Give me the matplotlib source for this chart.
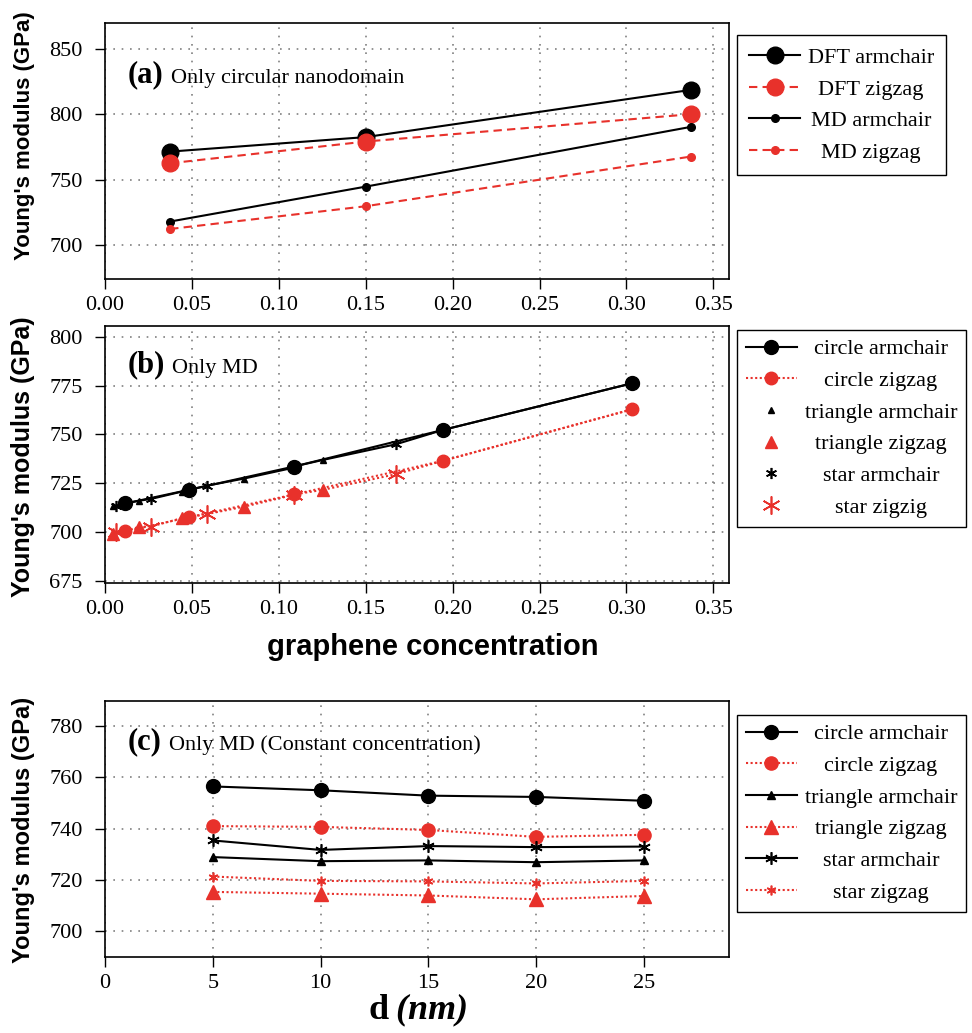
import matplotlib
matplotlib.use("Agg")
import matplotlib.pyplot as plt
import numpy as np

plt.rcParams["font.family"] = ["Liberation Serif", "DejaVu Serif"]
plt.rcParams["mathtext.fontset"] = "custom"
plt.rcParams["mathtext.rm"] = "Liberation Serif"
plt.rcParams["mathtext.bf"] = "Liberation Serif:bold"
plt.rcParams["mathtext.bfit"] = "Liberation Serif:bold:italic"
plt.rcParams["mathtext.it"] = "Liberation Serif:italic"

RED = "#e8312b"

# panel (a): only circular nanodomain
conc_a = [0.0375, 0.15, 0.337]
dft_arm = [771.4, 782.5, 818.6]
dft_zig = [762.5, 779.1, 800.0]
md_arm = [717.9, 744.6, 790.3]
md_zig = [712.2, 729.6, 767.6]

# panel (b): only MD, vs concentration
circ_x = [0.0117, 0.0484, 0.1087, 0.1943, 0.3033]
circ_arm = [714.7, 721.7, 733.6, 752.3, 776.2]
circ_zig = [700.4, 707.7, 719.3, 736.5, 762.9]
tri_x = [0.0049, 0.0195, 0.0443, 0.0797, 0.1255]
tri_arm = [713.3, 716.1, 720.8, 727.4, 737.0]
tri_zig = [698.9, 702.8, 707.2, 713.0, 721.7]
star_x = [0.0065, 0.0264, 0.0587, 0.1085, 0.1674]
star_arm = [713.6, 717.0, 723.8, 733.0, 745.0]
star_zig = [700.0, 702.9, 709.3, 719.1, 729.7]

# panel (c): only MD, constant concentration
d_nm = [5, 10, 15, 20, 25]
c_circ_arm = [756.5, 755.0, 752.9, 752.4, 750.9]
c_circ_zig = [741.0, 740.7, 739.5, 736.8, 737.6]
c_tri_arm = [728.9, 727.3, 727.6, 726.9, 727.6]
c_tri_zig = [715.3, 714.6, 713.9, 712.4, 713.7]
c_star_arm = [735.4, 731.7, 733.2, 732.8, 733.0]
c_star_zig = [721.3, 719.6, 719.4, 718.6, 719.6]

conc_ticks = np.arange(0, 0.351, 0.05)
ticks_a = [700, 750, 800, 850]
ticks_b = [675, 700, 725, 750, 775, 800]
ticks_c = [700, 720, 740, 760, 780]
ticks_d = [0, 5, 10, 15, 20, 25]

fig = plt.figure(figsize=(9.72, 10.33), dpi=100)
ax_a = fig.add_axes([0.108, 0.730, 0.642, 0.248])
ax_b = fig.add_axes([0.108, 0.4356, 0.642, 0.2488])
ax_c = fig.add_axes([0.108, 0.0739, 0.642, 0.2478])

dash = (0, (4, 2.5))
dot = (0, (1, 1.2))

ax_a.plot(conc_a, dft_arm, "-o", color="black", lw=1.5, ms=12, label="DFT armchair")
ax_a.plot(conc_a, dft_zig, marker="o", ls=dash, color=RED, lw=1.5, ms=12, label="DFT zigzag")
ax_a.plot(conc_a, md_arm, "-o", color="black", lw=1.5, ms=5.5, label="MD armchair")
ax_a.plot(conc_a, md_zig, marker="o", ls=dash, color=RED, lw=1.5, ms=5.5, label="MD zigzag")

# lines through all points of one edge type
all_x = np.concatenate([circ_x, tri_x, star_x])
order = np.argsort(all_x)
ax_b.plot(all_x[order], np.concatenate([circ_arm, tri_arm, star_arm])[order], "-", color="black", lw=1.5)
ax_b.plot(all_x[order], np.concatenate([circ_zig, tri_zig, star_zig])[order], ls=dot, color=RED, lw=1.5)
ax_b.plot(circ_x, circ_arm, "-o", color="black", lw=1.5, ms=10, label="circle armchair")
ax_b.plot(circ_x, circ_zig, marker="o", ls=dot, color=RED, lw=1.5, ms=9, label="circle zigzag")
ax_b.plot(tri_x, tri_arm, "^", color="black", ms=5, ls="none", label="triangle armchair")
ax_b.plot(tri_x, tri_zig, "^", color=RED, ms=9, ls="none", label="triangle zigzag")
ax_b.plot(star_x, star_arm, marker=(6, 2, 0), color="black", ms=8, mew=1.2, ls="none", label="star armchair")
ax_b.plot(star_x, star_zig, marker=(6, 2, 0), color=RED, ms=13, mew=1.2, ls="none", label="star zigzig")

ax_c.plot(d_nm, c_circ_arm, "-o", color="black", lw=1.5, ms=10, label="circle armchair")
ax_c.plot(d_nm, c_circ_zig, marker="o", ls=dot, color=RED, lw=1.5, ms=9.5, label="circle zigzag")
ax_c.plot(d_nm, c_tri_arm, "-^", color="black", lw=1.5, ms=6, label="triangle armchair")
ax_c.plot(d_nm, c_tri_zig, marker="^", ls=dot, color=RED, lw=1.5, ms=10, label="triangle zigzag")
ax_c.plot(d_nm, c_star_arm, "-", marker=(6, 2, 0), color="black", lw=1.5, ms=9, mew=1.2, label="star armchair")
ax_c.plot(d_nm, c_star_zig, marker=(6, 2, 0), ls=dot, color=RED, lw=1.5, ms=7, mew=1.2, label="star zigzag")

panels = [(ax_a, ticks_a, (674, 870), 16, 0.561),
          (ax_b, ticks_b, (674, 805.5), 18, 0.490),
          (ax_c, ticks_c, (690, 790), 17, 0.495)]
for ax, yt, ylim, ylab_size, ylab_y in panels:
    ax.set_ylim(*ylim)
    ax.set_yticks(yt)
    if ax is ax_c:
        ax.set_xlim(0, 28.95)
        ax.set_xticks(ticks_d)
    else:
        ax.set_xlim(0, 0.359)
        ax.set_xticks(conc_ticks)
        ax.set_xticklabels([f"{t:.2f}" for t in conc_ticks])
    ax.grid(True, color="#808080", ls=(0, (1, 4)), lw=1.2)
    ax.set_axisbelow(True)
    ax.tick_params(direction="out", length=7, width=1, labelsize=16)
    ax.tick_params(axis="x", pad=5.5)
    ax.tick_params(axis="y", pad=9)
    for sp in ax.spines.values():
        sp.set_linewidth(1.2)
    ax.set_ylabel("Young's modulus (GPa)", family="Liberation Sans", weight="bold", fontsize=ylab_size)
    ax.yaxis.set_label_coords(-0.112, ylab_y)

panel_text = [(ax_a, "(a)", "Only circular nanodomain", 0.796),
              (ax_b, "(b)", "Only MD", 0.848),
              (ax_c, "(c)", "Only MD (Constant concentration)", 0.84)]
for ax, tag, sub, yf in panel_text:
    t = ax.text(0.037, yf, tag, transform=ax.transAxes, fontsize=22, weight="bold", va="center")
    ax.annotate(sub, xy=(1, 0), xycoords=t, xytext=(5, 1), textcoords="offset points",
                fontsize=16, va="bottom")

fig.text(0.4455, 0.3737, "graphene concentration", family="Liberation Sans", weight="bold",
         fontsize=21, ha="center", va="center")
fig.text(0.430, 0.0035, r"$\mathbf{d}\;\mathbfit{(nm)}$", fontsize=26, ha="center", va="bottom")

legends = []
for ax, top, bpad in [(ax_a, 0.966, 0.55), (ax_b, 0.6805, 0.4), (ax_c, 0.3078, 0.4)]:
    leg = fig.legend(*ax.get_legend_handles_labels(), loc="upper left", bbox_to_anchor=(0.758, top),
                     fontsize=16, frameon=True, fancybox=False, edgecolor="black", framealpha=1,
                     handlelength=2.3, handletextpad=0.35, labelspacing=0.5, borderpad=bpad,
                     borderaxespad=0)
    leg.get_frame().set_linewidth(1.0)
    legends.append(leg)

# centre the legend labels in their column
fig.canvas.draw()
for leg in legends:
    texts = leg.get_texts()
    widths = [t.get_window_extent().width for t in texts]
    wmax = max(widths)
    for t, w in zip(texts, widths):
        t.set_x((wmax - w) / 2)

fig.savefig("out.png", dpi=100)
